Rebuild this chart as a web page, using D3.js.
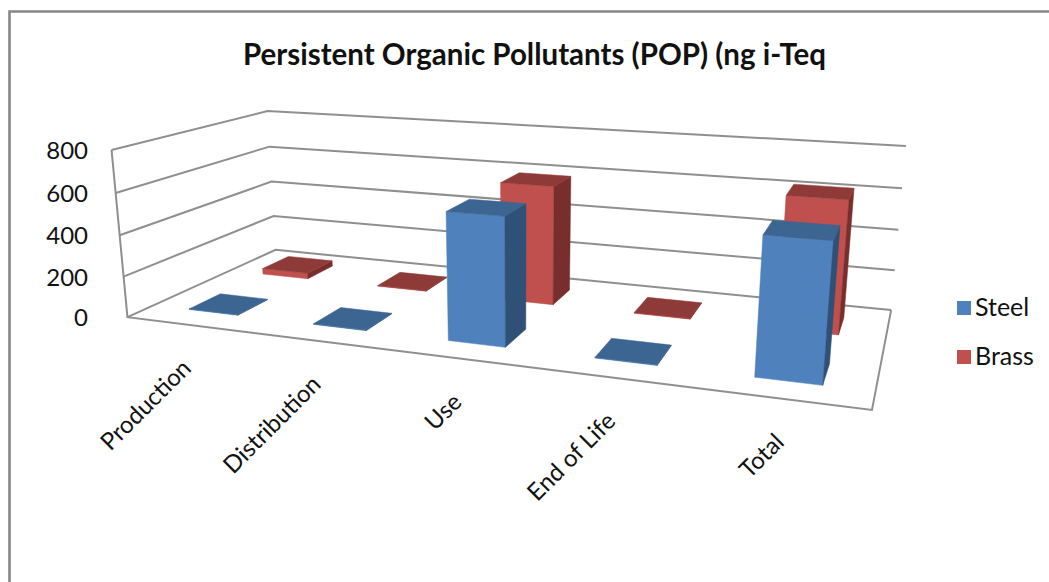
<!DOCTYPE html>
<html><head><meta charset="utf-8">
<script src="https://cdnjs.cloudflare.com/ajax/libs/d3/7.8.5/d3.min.js"></script>
<style>html,body{margin:0;padding:0;background:#fff}svg{display:block}text{font-family:Lato,"Open Sans",sans-serif;fill:#111}</style>
</head><body><svg id="c" width="1049" height="582"></svg>
<script>
const categories = ["Production","Distribution","Use","End of Life","Total"];
const seriesNames = ["Steel","Brass"];
const steel = [3,3,590,3,600];
const brass = [30,3,590,3,625];
const yTicks = [0,200,400,600,800];
const titleText = "Persistent Organic Pollutants (POP) (ng i-Teq";
const palette = {
  Steel:{front:"#4F81BD",top:"#3D6592",side:"#2F5077"},
  Brass:{front:"#C0504D",top:"#8E3A38",side:"#772E2C"}
};
// Box frame calibration: unit cube corners to pixels
const calib = [
 [0,0,0,127,317],[1,0,0,872,410],[0,1,0,276,250],[1,1,0,891,310],
 [0,0,1,112,150],[0,1,1,267,111],[1,1,1,906,146]
];
function solve(A,b){
  const n=b.length, M=A.map((r,i)=>[...r,b[i]]);
  for(let i=0;i<n;i++){
    let p=i; for(let r=i+1;r<n;r++) if(Math.abs(M[r][i])>Math.abs(M[p][i])) p=r;
    [M[i],M[p]]=[M[p],M[i]];
    for(let r=0;r<n;r++){ if(r===i) continue; const f=M[r][i]/M[i][i];
      for(let c=i;c<=n;c++) M[r][c]-=f*M[i][c]; }
  }
  return M.map((r,i)=>r[n]/r[i]);
}
const rows=[],rhs=[];
calib.forEach(([u,v,w,x,y])=>{
  rows.push([u,v,w,1,0,0,0,0,-x*u,-x*v,-x*w]); rhs.push(x);
  rows.push([0,0,0,0,u,v,w,1,-y*u,-y*v,-y*w]); rhs.push(y);
});
const AtA=d3.range(11).map(i=>d3.range(11).map(j=>d3.sum(rows,r=>r[i]*r[j])));
const Atb=d3.range(11).map(i=>d3.sum(rows,(r,k)=>r[i]*rhs[k]));
const m=solve(AtA,Atb);
const proj=(u,v,w)=>{const d=m[8]*u+m[9]*v+m[10]*w+1;
  return [(m[0]*u+m[1]*v+m[2]*w+m[3])/d,(m[4]*u+m[5]*v+m[6]*w+m[7])/d];};

const uScale=d3.scaleBand().domain(categories).range([0,1]).paddingInner(0.6).paddingOuter(0.3);
const vScale=d3.scaleBand().domain(seriesNames).range([0,1]).paddingInner(0.6).paddingOuter(0.3);
const wScale=d3.scaleLinear().domain([0,800]).range([0,1]);

const svg=d3.select("#c");
svg.append("path").attr("d","M9.5,582V11.5H1049").attr("fill","none")
  .attr("stroke","#868686").attr("stroke-width",2.6);
svg.append("text").attr("x",534.5).attr("y",65).attr("text-anchor","middle")
  .attr("font-size",29.5).attr("font-weight",700).text(titleText);

const line=d3.line();
const grid=svg.append("g").attr("fill","none").attr("stroke","#8f8f8f").attr("stroke-width",2);
yTicks.forEach(t=>{const w=wScale(t);
  grid.append("path").attr("d",line([proj(0,0,w),proj(0,1,w),proj(1,1,w)]));});
grid.append("path").attr("d",line([proj(0,0,1),proj(0,0,0),proj(1,0,0),proj(1,1,0)]));

svg.append("g").selectAll("text").data(yTicks).join("text")
  .attr("x",88).attr("text-anchor","end").attr("font-size",24)
  .attr("y",d=>proj(0,0,wScale(d))[1]+9).text(d=>d);

const marks=svg.append("g");
function box(cat,ser,val){
  const u0=uScale(cat),u1=u0+uScale.bandwidth(),v0=vScale(ser),v1=v0+vScale.bandwidth(),w=wScale(val);
  const c=palette[ser], g=marks.append("g");
  const face=(pts,fill)=>g.append("path").attr("d",line(pts)+"Z").attr("fill",fill).attr("stroke",fill).attr("stroke-width",0.5);
  face([proj(u0,v0,0),proj(u1,v0,0),proj(u1,v0,w),proj(u0,v0,w)],c.front);
  face([proj(u1,v0,0),proj(u1,v1,0),proj(u1,v1,w),proj(u1,v0,w)],c.side);
  face([proj(u0,v0,w),proj(u1,v0,w),proj(u1,v1,w),proj(u0,v1,w)],c.top);
}
categories.forEach((c,i)=>box(c,"Brass",brass[i]));
categories.forEach((c,i)=>box(c,"Steel",steel[i]));

categories.forEach(c=>{
  const [x,y]=proj(uScale(c)+uScale.bandwidth()/2,0,0);
  svg.append("text").attr("text-anchor","end").attr("font-size",24)
    .attr("transform",`translate(${x+4},${y+45}) rotate(-45)`).text(c);
});

const legend=svg.append("g").selectAll("g").data(seriesNames).join("g")
  .attr("transform",(d,i)=>`translate(957,${301+i*49})`);
legend.append("rect").attr("width",14).attr("height",14).attr("fill",d=>palette[d].front);
legend.append("text").attr("x",18).attr("y",15).attr("font-size",25).text(d=>d);
</script></body></html>
